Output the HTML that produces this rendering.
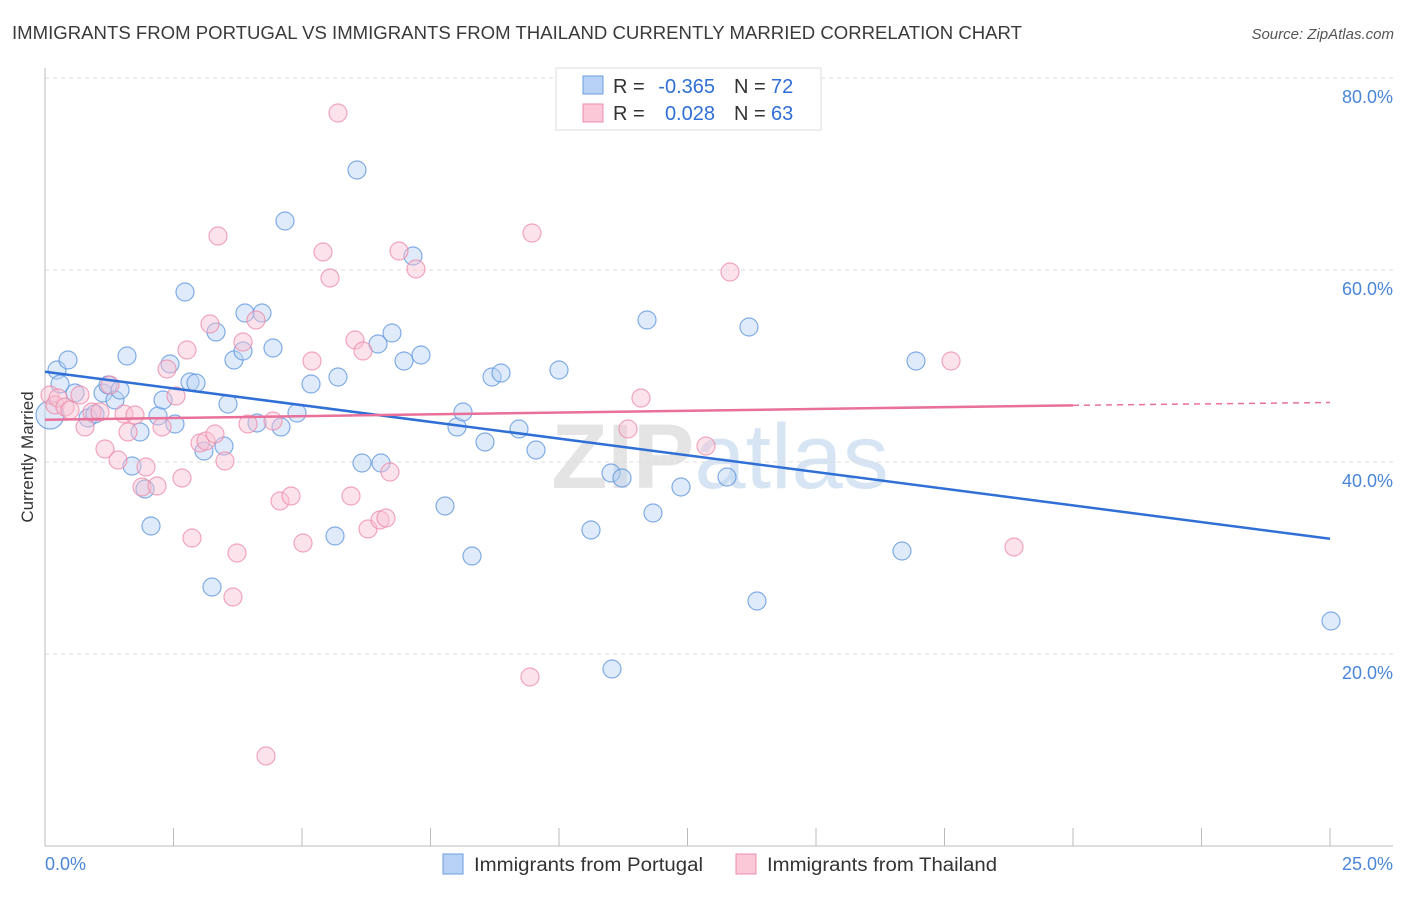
<!DOCTYPE html>
<html><head><meta charset="utf-8"><style>
body{margin:0;background:#fff;font-family:"Liberation Sans",sans-serif;}
svg text{font-family:"Liberation Sans",sans-serif;}
</style></head><body>
<svg id="chart" width="1406" height="892" xmlns="http://www.w3.org/2000/svg">
<text x="12" y="39" font-size="18" fill="#3a3a3a" textLength="1010" lengthAdjust="spacingAndGlyphs">IMMIGRANTS FROM PORTUGAL VS IMMIGRANTS FROM THAILAND CURRENTLY MARRIED CORRELATION CHART</text>
<text x="1394" y="39" font-size="15" fill="#555" font-style="italic" text-anchor="end">Source: ZipAtlas.com</text>
<text x="720" y="488" font-size="92" fill="#e4e4e4" text-anchor="middle" font-weight="bold">ZIP<tspan fill="#d6e4f3" font-weight="normal">atlas</tspan></text>
<g id="grid"></g><g id="axes"></g><g id="pts"></g><g id="trend"></g>
<text transform="translate(33,457) rotate(-90)" font-size="17" fill="#333" text-anchor="middle">Currently Married</text>
<g>
<rect x="556" y="68" width="265" height="62" fill="#fff" stroke="#ddd"/>
<rect x="583" y="76" width="20" height="18" fill="#b7d2f5" stroke="#6b9ee0"/>
<rect x="583" y="104" width="20" height="18" fill="#fbc8d7" stroke="#ee8eab"/>
<text x="613" y="93" font-size="20" fill="#333">R =</text>
<text x="715" y="93" font-size="20" fill="#2f6fd6" text-anchor="end">-0.365</text>
<text x="734" y="93" font-size="20" fill="#333">N =</text>
<text x="771" y="93" font-size="20" fill="#2f6fd6">72</text>
<text x="613" y="120" font-size="20" fill="#333">R =</text>
<text x="715" y="120" font-size="20" fill="#2f6fd6" text-anchor="end">0.028</text>
<text x="734" y="120" font-size="20" fill="#333">N =</text>
<text x="771" y="120" font-size="20" fill="#2f6fd6">63</text>
</g>
<g>
<rect x="443" y="854" width="20" height="20" fill="#b7d2f5" stroke="#6b9ee0"/>
<text x="474" y="871" font-size="19" fill="#333" textLength="229" lengthAdjust="spacingAndGlyphs">Immigrants from Portugal</text>
<rect x="736" y="854" width="20" height="20" fill="#fbc8d7" stroke="#ee8eab"/>
<text x="767" y="871" font-size="19" fill="#333" textLength="230" lengthAdjust="spacingAndGlyphs">Immigrants from Thailand</text>
</g>
</svg>
<script>
const xTicks=[0,2.5,5,7.5,10,12.5,15,17.5,20,22.5,25];
const yTicks=[20,40,60,80];
const bluePts=[[57,370],[68,360],[60,384],[50,415],[75,393],[88,418],[95,414],[103,393],[108,385],[115,400],[120,390],[127,356],[132,466],[140,432],[145,489],[151,526],[158,416],[163,400],[170,364],[175,424],[185,292],[190,382],[196,383],[204,451],[212,587],[216,332],[224,446],[228,404],[234,360],[243,351],[245,313],[257,423],[262,313],[273,348],[281,427],[285,221],[297,413],[311,384],[335,536],[338,377],[357,170],[362,463],[378,344],[381,463],[392,333],[404,361],[413,256],[421,355],[445,506],[457,427],[463,412],[472,556],[485,442],[492,377],[501,373],[519,429],[536,450],[559,370],[591,530],[611,473],[612,669],[622,478],[647,320],[653,513],[681,487],[727,477],[749,327],[757,601],[902,551],[916,361],[1331,621]].map(p=>[(p[0]-45)/1285*25,(846-p[1])/192*20]);
const pinkPts=[[50,395],[55,405],[58,398],[65,407],[70,410],[80,395],[85,427],[92,412],[100,412],[105,449],[110,385],[118,460],[124,414],[128,432],[135,415],[142,487],[146,467],[157,486],[162,427],[167,369],[176,396],[182,478],[187,350],[192,538],[200,443],[206,441],[210,324],[215,434],[218,236],[225,461],[233,597],[237,553],[243,342],[248,424],[256,320],[273,421],[280,501],[291,496],[303,543],[312,361],[323,252],[330,278],[338,113],[351,496],[355,340],[363,351],[368,529],[380,520],[386,518],[390,472],[399,251],[416,269],[530,677],[532,233],[628,429],[641,398],[706,446],[730,272],[951,361],[1014,547],[266,756]].map(p=>[(p[0]-45)/1285*25,(846-p[1])/192*20]);
const blueTrend=[[0,49.4],[25,32.0]];
const pinkTrend=[[0,44.4],[20,45.9],[25,46.2]];
const X=v=>45+v/25*1285, Y=v=>846-v/20*192;
const NS="http://www.w3.org/2000/svg";
function mk(parent,tag,attrs){const e=document.createElementNS(NS,tag);for(const k in attrs)e.setAttribute(k,attrs[k]);document.getElementById(parent).appendChild(e);return e;}
yTicks.forEach(t=>{
 const l=mk('grid','line',{x1:45,x2:1393,y1:Y(t),y2:Y(t),stroke:'#ddd','stroke-dasharray':'4,4'});
 
 
 const tx=mk('grid','text',{x:1393,y:Y(t)+25,'font-size':18,fill:'#4a86d8','text-anchor':'end'});tx.textContent=t.toFixed(1)+'%';
 
 
});
const ax=mk('axes','line',{x1:45,x2:45,y1:68,y2:846,stroke:'#bbb'});


const bx=mk('axes','line',{x1:45,x2:1393,y1:846,y2:846,stroke:'#bbb'});


xTicks.forEach(t=>{
 const l=mk('axes','line',{x1:X(t),x2:X(t),y1:828,y2:846,stroke:'#bbb'});
 
 
});
[[0,'start',45],[25,'end',1393]].forEach(a=>{
 const tx=mk('axes','text',{x:a[2],y:870,'font-size':18,fill:'#4a86d8','text-anchor':a[1]});tx.textContent=a[0].toFixed(1)+'%';
 
 
});
function dots(arr,fill,stroke,name){arr.forEach((p,i)=>{
 const c=mk('pts','circle',{cx:X(p[0]),cy:Y(p[1]),r:(name==='portugal-point'&&i===3)?14:9,fill:fill,'fill-opacity':0.45,stroke:stroke,'stroke-opacity':0.75,'stroke-width':1.2});
 
 
});}
dots(bluePts,'#b7d2f5','#5b93de','portugal-point');
dots(pinkPts,'#f9c1d2','#ec8aa8','thailand-point');
const bt=mk('trend','line',{x1:X(blueTrend[0][0]),y1:Y(blueTrend[0][1]),x2:X(blueTrend[1][0]),y2:Y(blueTrend[1][1]),stroke:'#2f6fd6','stroke-width':2.5});


const pt=mk('trend','line',{x1:X(pinkTrend[0][0]),y1:Y(pinkTrend[0][1]),x2:X(pinkTrend[1][0]),y2:Y(pinkTrend[1][1]),stroke:'#e8709a','stroke-width':2.5});


const pd=mk('trend','line',{x1:X(pinkTrend[1][0]),y1:Y(pinkTrend[1][1]),x2:X(pinkTrend[2][0]),y2:Y(pinkTrend[2][1]),stroke:'#e8709a','stroke-width':1.5,'stroke-dasharray':'6,5'});


</script>
</body></html>
